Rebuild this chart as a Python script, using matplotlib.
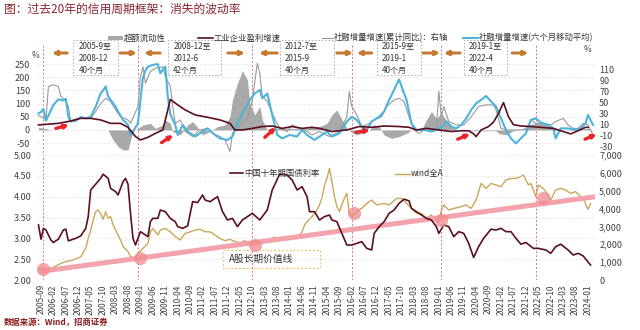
import numpy as np
import pandas as pd
import matplotlib
matplotlib.use('Agg')
import matplotlib.pyplot as plt
from matplotlib.patches import Rectangle
from matplotlib.lines import Line2D
from matplotlib.ticker import FuncFormatter

plt.rcParams['font.family'] = ['Noto Sans CJK SC', 'DejaVu Sans']
plt.rcParams['axes.unicode_minus'] = False

# ---------------- data ----------------
# top panel: excess liquidity (grey area)
liq_dates = ['2005-08', '2005-11', '2006-01', '2007-12', '2008-01', '2008-02', '2008-04', '2008-06',
             '2008-08', '2008-09', '2008-10', '2008-12', '2009-02', '2009-05', '2009-07', '2009-10',
             '2009-11', '2010-01', '2010-02', '2010-05', '2010-08', '2010-10', '2010-12', '2011-02',
             '2011-05', '2011-08', '2011-11', '2012-01', '2012-02', '2012-04', '2012-06', '2012-08',
             '2012-09', '2012-11', '2013-01', '2013-02', '2013-04', '2013-08', '2014-06', '2015-01',
             '2015-04', '2015-06', '2015-08', '2015-10', '2015-12', '2016-02', '2016-04', '2016-06',
             '2016-09', '2016-11', '2017-01', '2017-03', '2017-06', '2017-09', '2017-12', '2018-02',
             '2018-06', '2018-08', '2018-10', '2018-12', '2019-02', '2019-04', '2019-06', '2019-08',
             '2019-10', '2020-12', '2021-01', '2021-04', '2021-07', '2021-10', '2022-01', '2022-05',
             '2022-09', '2022-12', '2023-03', '2024-01', '2024-03']
liq_vals = [10, 5, 0, 0, -20, -38, -63, -76,
            -76, -38, -6, 6, 19, 25, 6, 19,
            38, 25, -6, -19, 19, 32, 10, -19,
            -6, 13, 19, 50, 114, 177, 225, 190,
            101, 57, 89, 38, 0, 6, 6, 13,
            25, 57, 76, 40, 6, -10, -19, -13,
            0, 19, 13, -19, -32, -25, -13, 0,
            0, 38, 70, 44, 63, 38, 19, 0,
            -3, -3, -13, -19, -3, 0, 19, 28,
            19, 6, 0, 6, 0]

# industrial profit growth
prof_dates = ['2005-08', '2006-04', '2006-08', '2007-01', '2007-05', '2007-09', '2008-01', '2008-05',
              '2008-08', '2008-11', '2009-01', '2009-04', '2009-07', '2009-10', '2009-12', '2010-01',
              '2010-04', '2010-07', '2010-11', '2011-03', '2011-09', '2012-01', '2012-03', '2012-06',
              '2012-10', '2013-02', '2013-06', '2013-10', '2014-02', '2014-06', '2014-10', '2015-01',
              '2015-06', '2015-12', '2016-05', '2016-10', '2017-03', '2017-09', '2018-01', '2018-04',
              '2018-08', '2019-01', '2019-06', '2019-10', '2020-01', '2020-03', '2020-04', '2020-06',
              '2020-09', '2020-11', '2021-01', '2021-03', '2021-05', '2021-07', '2021-10', '2022-02',
              '2022-06', '2022-11', '2023-03', '2023-06', '2023-09', '2023-12', '2024-01']
prof_vals = [19, 25, 32, 44, 44, 38, 25, 25,
             10, -25, -38, -28, -13, 0, 76, 116,
             95, 76, 57, 50, 38, 25, 0, 0,
             6, 13, 15, 6, 13, 6, 10, 6,
             -6, 0, 13, 10, 15, 13, 10, 0,
             6, 0, -6, -3, -3, -15, -25, 0,
             13, 30, 63, 104, 50, 20, 15, 13,
             10, 6, -6, -15, -3, 10, 10]

# social financing growth (cumulative yoy, thin grey)
sf_dates = ['2005-08', '2005-10', '2005-11', '2005-12', '2006-02', '2006-04', '2006-05', '2006-07',
            '2006-08', '2006-09', '2006-11', '2007-01', '2007-03', '2007-05', '2007-07', '2007-09',
            '2007-11', '2008-01', '2008-03', '2008-05', '2008-08', '2008-09', '2008-12', '2009-01',
            '2009-02', '2009-03', '2009-05', '2009-07', '2009-10', '2009-11', '2010-01', '2010-02',
            '2010-03', '2010-05', '2010-07', '2010-10', '2011-01', '2011-04', '2011-06', '2011-09',
            '2011-11', '2012-01', '2012-02', '2012-05', '2012-08', '2012-10', '2012-12', '2013-01',
            '2013-02', '2013-04', '2013-06', '2013-09', '2013-12', '2014-02', '2014-05', '2014-08',
            '2014-10', '2015-01', '2015-05', '2015-09', '2015-12', '2016-01', '2016-02', '2016-04',
            '2016-06', '2016-08', '2016-11', '2017-02', '2017-04', '2017-07', '2017-09', '2017-11',
            '2018-01', '2018-03', '2018-05', '2018-08', '2018-11', '2018-12', '2019-01', '2019-02',
            '2019-03', '2019-05', '2019-08', '2019-11', '2020-02', '2020-05', '2020-08', '2020-11',
            '2020-12', '2021-02', '2021-04', '2021-07', '2021-10', '2022-01', '2022-02', '2022-04',
            '2022-07', '2022-10', '2022-12', '2023-03', '2023-05', '2023-07', '2023-09', '2023-11',
            '2024-01', '2024-03']
sf_vals = [55, 45, 38, 165, 171, 165, 127, 110,
           89, 32, 32, 50, 44, 44, 70, 101,
           120, 108, 76, 50, 38, 25, 89, 203,
           240, 177, 222, 234, 240, 203, 165, 89,
           25, 38, -6, -25, 0, 6, -13, -25,
           -38, -82, -13, 19, 44, 114, 253, 215,
           127, 108, 63, 6, -6, 19, 6, -6,
           -19, -6, -25, -6, 50, 146, 89, 57,
           13, 19, 38, 50, 89, 114, 120, 108,
           50, 0, -13, 6, -6, 6, 146, 50,
           89, 32, 19, 19, 50, 89, 95, 95,
           76, 6, 0, 0, 0, 6, 38, 25,
           25, 19, 32, 44, 19, 6, 6, 25,
           19, -19]

# social financing growth (6m moving average, blue)
sfma_dates = ['2005-08', '2005-09', '2005-10', '2005-11', '2005-12', '2006-02', '2006-04', '2006-06',
              '2006-07', '2006-08', '2006-09', '2006-11', '2007-01', '2007-03', '2007-05', '2007-07',
              '2007-09', '2007-10', '2007-11', '2007-12', '2008-01', '2008-03', '2008-04', '2008-06',
              '2008-08', '2008-09', '2008-10', '2008-12', '2009-02', '2009-03', '2009-04', '2009-06',
              '2009-08', '2009-09', '2009-11', '2009-12', '2010-01', '2010-03', '2010-04', '2010-06',
              '2010-08', '2010-11', '2011-02', '2011-04', '2011-07', '2011-09', '2011-12', '2012-02',
              '2012-04', '2012-06', '2012-09', '2012-11', '2013-01', '2013-02', '2013-04', '2013-06',
              '2013-08', '2013-10', '2014-01', '2014-04', '2014-06', '2014-08', '2014-11', '2015-01',
              '2015-04', '2015-06', '2015-09', '2015-12', '2016-02', '2016-04', '2016-06', '2016-08',
              '2016-10', '2017-01', '2017-03', '2017-05', '2017-07', '2017-09', '2017-10', '2017-12',
              '2018-02', '2018-04', '2018-07', '2018-10', '2019-01', '2019-03', '2019-04', '2019-06',
              '2019-08', '2019-10', '2019-12', '2020-02', '2020-04', '2020-06', '2020-08', '2020-10',
              '2020-12', '2021-02', '2021-04', '2021-06', '2021-08', '2021-10', '2021-12', '2022-02',
              '2022-04', '2022-06', '2022-09', '2022-11', '2022-12', '2023-02', '2023-05', '2023-08',
              '2023-10', '2023-12', '2024-01', '2024-02', '2024-03']
sfma_vals = [63, 68, 80, 35, 55, 95, 116, 112,
             118, 50, 32, 38, 48, 44, 50, 88,
             139, 150, 165, 127, 114, 89, 70, 38,
             19, -19, -6, 25, 200, 225, 240, 247,
             250, 215, 240, 127, 60, 19, -19, 19,
             -6, -25, -6, 6, -19, -32, -38, -25,
             25, 63, 114, 139, 152, 120, 139, 57,
             -19, -32, -19, -25, 0, -19, -38, -25,
             -6, -25, -13, 32, 50, 38, 13, 0,
             32, 50, 70, 114, 152, 192, 165, 114,
             25, 0, 0, -6, 6, 20, 32, 13,
             6, 19, 44, 76, 101, 114, 129, 108,
             89, 44, 0, -32, -51, -32, -13, 38,
             44, 28, 19, 6, -32, 6, 6, 0,
             6, 25, 57, 38, 19]

# bottom panel: 10y CGB yield (left axis, %)
cgb_dates = ['2005-08', '2005-09', '2005-10', '2005-11', '2006-01', '2006-02', '2006-04', '2006-06',
             '2006-07', '2006-08', '2006-11', '2007-01', '2007-03', '2007-04', '2007-05', '2007-07',
             '2007-09', '2007-10', '2007-12', '2008-01', '2008-03', '2008-04', '2008-06', '2008-07',
             '2008-08', '2008-09', '2008-10', '2008-11', '2009-01', '2009-02', '2009-04', '2009-05',
             '2009-06', '2009-08', '2009-09', '2009-11', '2010-01', '2010-03', '2010-04', '2010-06',
             '2010-08', '2010-10', '2010-12', '2011-02', '2011-03', '2011-05', '2011-08', '2011-10',
             '2011-12', '2012-02', '2012-04', '2012-06', '2012-08', '2012-10', '2013-01', '2013-04',
             '2013-06', '2013-09', '2013-12', '2014-02', '2014-04', '2014-06', '2014-08', '2014-09',
             '2014-11', '2015-01', '2015-03', '2015-05', '2015-06', '2015-08', '2015-10', '2015-12',
             '2016-02', '2016-04', '2016-06', '2016-08', '2016-10', '2016-11', '2017-01', '2017-03',
             '2017-05', '2017-07', '2017-09', '2017-11', '2018-01', '2018-02', '2018-04', '2018-06',
             '2018-08', '2018-10', '2018-12', '2019-01', '2019-03', '2019-05', '2019-07', '2019-09',
             '2019-11', '2020-01', '2020-03', '2020-05', '2020-07', '2020-10', '2020-12', '2021-02',
             '2021-04', '2021-06', '2021-08', '2021-10', '2021-12', '2022-03', '2022-05', '2022-08',
             '2022-10', '2022-12', '2023-02', '2023-05', '2023-07', '2023-09', '2023-11', '2024-02']
cgb_vals = [3.32, 2.98, 3.24, 3.20, 2.96, 2.90, 2.98, 3.20,
            3.22, 2.94, 3.00, 3.06, 3.24, 3.52, 4.16, 4.30,
            4.44, 4.54, 4.44, 4.20, 4.12, 4.04, 4.36, 4.44,
            4.30, 3.60, 3.00, 2.84, 3.16, 3.12, 3.04, 3.40,
            3.48, 3.48, 3.68, 3.64, 3.48, 3.40, 3.28, 3.24,
            3.30, 3.88, 3.86, 4.04, 3.92, 3.88, 4.00, 3.64,
            3.44, 3.48, 3.28, 3.44, 3.52, 3.60, 3.44, 3.68,
            4.16, 4.54, 4.52, 4.40, 4.16, 4.24, 4.00, 3.64,
            3.64, 3.44, 3.52, 3.56, 3.44, 3.40, 3.12, 2.84,
            2.84, 2.88, 2.92, 2.76, 2.72, 3.12, 3.28, 3.40,
            3.60, 3.68, 3.84, 3.94, 3.90, 3.72, 3.64, 3.56,
            3.48, 3.44, 3.28, 3.12, 3.32, 3.28, 3.04, 3.16,
            3.12, 2.88, 2.54, 2.80, 3.00, 3.22, 3.20, 3.24,
            3.16, 3.16, 3.00, 2.86, 2.90, 2.76, 2.76, 2.72,
            2.64, 2.80, 2.86, 2.72, 2.60, 2.64, 2.58, 2.36]

# Wind All-A index (right axis)
wind_dates = ['2005-08', '2005-11', '2006-02', '2006-05', '2006-07', '2006-10', '2007-01', '2007-03',
              '2007-04', '2007-05', '2007-06', '2007-07', '2007-08', '2007-09', '2007-10', '2007-11',
              '2007-12', '2008-01', '2008-02', '2008-03', '2008-05', '2008-06', '2008-08', '2008-09',
              '2008-11', '2008-12', '2009-02', '2009-04', '2009-05', '2009-06', '2009-08', '2009-09',
              '2009-11', '2010-01', '2010-03', '2010-05', '2010-07', '2010-09', '2010-11', '2011-01',
              '2011-03', '2011-05', '2011-07', '2011-09', '2011-11', '2012-01', '2012-03', '2012-05',
              '2012-07', '2012-09', '2012-11', '2013-01', '2013-03', '2013-05', '2013-07', '2013-09',
              '2013-11', '2014-01', '2014-03', '2014-05', '2014-06', '2014-07', '2014-08', '2014-10',
              '2014-11', '2014-12', '2015-01', '2015-02', '2015-03', '2015-04', '2015-05', '2015-06',
              '2015-07', '2015-08', '2015-09', '2015-10', '2015-11', '2015-12', '2016-01', '2016-02',
              '2016-04', '2016-06', '2016-08', '2016-10', '2016-12', '2017-03', '2017-05', '2017-08',
              '2017-10', '2017-12', '2018-02', '2018-04', '2018-06', '2018-08', '2018-10', '2018-12',
              '2019-01', '2019-02', '2019-03', '2019-05', '2019-07', '2019-09', '2019-12', '2020-02',
              '2020-04', '2020-06', '2020-08', '2020-10', '2020-12', '2021-02', '2021-04', '2021-06',
              '2021-08', '2021-10', '2021-11', '2022-01', '2022-02', '2022-04', '2022-05', '2022-07',
              '2022-09', '2022-10', '2022-12', '2023-02', '2023-04', '2023-06', '2023-08', '2023-10',
              '2023-11', '2024-01', '2024-02']
wind_vals = [650, 600, 710, 930, 1030, 1120, 1300, 1770,
             2330, 2800, 3360, 3830, 3920, 3700, 3400, 3830,
             3450, 3550, 3080, 2800, 2240, 1870, 1590, 1300,
             1210, 1490, 1770, 2050, 2700, 2890, 2520, 2800,
             2890, 2700, 2430, 2240, 2610, 2700, 2800, 2840,
             2700, 2700, 2520, 2330, 2200, 2280, 2150, 2090,
             2200, 2050, 1960, 2200, 2240, 2280, 2390, 2330,
             2330, 2390, 2390, 2520, 2700, 3080, 3270, 3550,
             3730, 3920, 4200, 4600, 5300, 5690, 6250, 5500,
             4700, 4110, 3830, 4200, 4570, 4850, 3730, 3550,
             3830, 4010, 4290, 4480, 4200, 4290, 4200, 4570,
             4570, 4290, 4010, 3730, 3730, 3450, 3640, 3270,
             3270, 3900, 4200, 3920, 4010, 4070, 4200, 4010,
             4480, 5410, 5130, 5410, 5320, 5230, 5600, 5690,
             5690, 5790, 5880, 5320, 5410, 4670, 5320, 5130,
             4760, 4480, 5040, 5130, 5040, 4850, 4950, 4670,
             4570, 3960, 4290]

# long-term value line and touch points (left axis units)
trend_dates = ['2005-08', '2024-04']
trend_vals = [2.20, 4.00]
touch_dates = ['2005-10', '2009-01', '2012-11', '2016-03', '2019-02', '2022-07']
touch_vals = [2.27, 2.53, 2.84, 3.60, 3.43, 3.97]

cycle_lines = ['2005-10', '2008-12', '2012-10', '2016-02', '2019-02', '2022-04']
cycle_text = ['2005-9至\n2008-12\n40个月', '2008-12至\n2012-6\n42个月', '2012-7至\n2015-9\n40个月',
              '2015-9至\n2019-1\n40个月', '2019-1至\n2022-4\n40个月']

xtick_dates = pd.date_range('2005-09-01', '2024-01-01', freq='5MS')


def mi(dates):
    # month index relative to 2005-09
    return np.array([(int(d[:4]) - 2005) * 12 + int(d[5:7]) - 9 for d in dates])


# ---------------- figure ----------------
W, H = 640, 330
fig = plt.figure(figsize=(6.4, 3.3), dpi=100)


def fx(px):
    return px / W


def fy(py):
    return 1 - py / H


XL = (-1.6, 222.8)
c_red = '#5a1020'
c_blue = '#4cb3dc'
c_grey = '#9a9a9a'
c_fill = '#a9a9a9'
c_gold = '#c9a85a'
c_vline = '#e0707c'
tick_c = '#404040'

# top panel
ax1 = fig.add_axes([fx(37), fy(156.3), fx(558), 113.3 / H])
ax1.set_xlim(*XL)
ax1.set_ylim(-100, 330)
ax1.fill_between(mi(liq_dates), liq_vals, 0, color=c_fill, lw=0, zorder=2)
ax1.plot(mi(sf_dates), sf_vals, color=c_grey, lw=0.8, zorder=3)
ax1.plot(mi(sfma_dates), sfma_vals, color=c_blue, lw=1.5, zorder=4)
ax1.plot(mi(prof_dates), prof_vals, color=c_red, lw=1.2, zorder=5)
ax1.set_yticks(range(-50, 251, 50))
ax1.set_xticks([])
ax1.grid(axis='y', ls=(0, (3, 3)), color='#dddddd', lw=0.5)
for s in ax1.spines.values():
    s.set_visible(False)
ax1.tick_params(axis='y', length=0, labelsize=6.5, colors=tick_c, pad=5)
ax1r = ax1.twinx()
ax1r.set_ylim(-47.8, 158)
ax1r.set_yticks(range(-30, 111, 20))
for s in ax1r.spines.values():
    s.set_visible(False)
ax1r.tick_params(axis='y', length=0, labelsize=6.5, colors=tick_c, pad=3)
for d in cycle_lines:
    ax1.axvline(mi([d])[0], color=c_vline, lw=0.7, ls=(0, (2, 2)), zorder=1)

# cycle boxes and orange arrows
box_edges = [(13, 31), (51, 72.5), (96, 118), (135, 153), (170, 187.5)]
for (a, b), t in zip(box_edges, cycle_text):
    ax1.add_patch(Rectangle((a, 209), b - a, 132, fill=False, ec='#a8a8a8', lw=0.6,
                            ls=(0, (2, 2)), clip_on=False, zorder=6))
    ax1.text(a + 2.2, 336, t, fontsize=5.8, va='top', ha='left', color='#333333',
             linespacing=1.45, clip_on=False)
orange_arrows = [(10.5, 4.4), (31.8, 38.6), (47.9, 41.4), (75.2, 82), (95, 87.7),
                 (119, 125.5), (133, 127), (153.7, 160.5), (168.5, 162), (189.5, 196)]
for a, b in orange_arrows:
    ax1.annotate('', xy=(b, 292), xytext=(a, 292), annotation_clip=False,
                 arrowprops=dict(arrowstyle='-|>', color='#c47a30', lw=2.2,
                                 mutation_scale=6, shrinkA=0, shrinkB=0))
red_arrows = [((6.0, 6), (11.3, 19)), ((48.5, -48), (53.2, -19)), ((90, -28), (94.5, 10)),
              ((126.7, -9), (132.3, 0)), ((167.6, -35), (172.6, -15)), ((218.8, -35), (223.5, -16))]
for p0, p1 in red_arrows:
    ax1.annotate('', xy=p1, xytext=p0, annotation_clip=False, zorder=8,
                 arrowprops=dict(arrowstyle='-|>', color='#e8262a', lw=2.4,
                                 mutation_scale=5, shrinkA=0, shrinkB=0))

# bottom panel
ax2 = fig.add_axes([fx(37), fy(280), fx(558), 125 / H])
ax2.set_xlim(*XL)
ax2.set_ylim(2, 5)
ax2.set_yticks(np.arange(2, 5.01, 0.5))
ax2.yaxis.set_major_formatter(FuncFormatter(lambda v, p: f'{v:.2f}'))
ax2.grid(axis='y', ls=(0, (3, 3)), color='#dddddd', lw=0.5)
for s in ax2.spines.values():
    s.set_visible(False)
ax2.tick_params(axis='y', length=0, labelsize=6.5, colors=tick_c, pad=4)
ax2.set_xticks(mi([d.strftime('%Y-%m') for d in xtick_dates]))
ax2.set_xticklabels([d.strftime('%Y-%m') for d in xtick_dates], rotation=90,
                    fontsize=6, color=tick_c)
ax2.tick_params(axis='x', length=0, pad=3)
for d in cycle_lines:
    ax2.axvline(mi([d])[0], color=c_vline, lw=0.7, ls=(0, (2, 2)), zorder=1)
ax2.plot(mi(trend_dates), trend_vals, color='#f4a3ad', lw=3.6, solid_capstyle='butt', zorder=2)
ax2.plot(mi(cgb_dates), cgb_vals, color=c_red, lw=1.2, zorder=4)
ax2.scatter(mi(touch_dates), touch_vals, s=90, color='#f08a8e', alpha=0.75, lw=0, zorder=6)
ax2r = ax2.twinx()
ax2r.set_ylim(0, 7000)
ax2r.set_yticks(range(0, 7001, 1000))
ax2r.yaxis.set_major_formatter(FuncFormatter(lambda v, p: f'{int(v):,}'))
ax2r.plot(mi(wind_dates), wind_vals, color=c_gold, lw=1.0, zorder=3)
for s in ax2r.spines.values():
    s.set_visible(False)
ax2r.tick_params(axis='y', length=0, labelsize=6.5, colors=tick_c, pad=3)
ax2.set_zorder(ax2r.get_zorder() + 1)
ax2.patch.set_visible(False)

# value-line label box
fig.add_artist(Rectangle((fx(223), fy(268)), fx(97), 18 / H, fill=False, ec='#f0c060',
                         lw=0.7, ls=(0, (2, 2)), transform=fig.transFigure))
fig.text(fx(229), fy(259), 'A股长期价值线', fontsize=7, va='center', ha='left', color='#333333')

# legends
def leg_line(x0, x1, y, color, lw, label):
    fig.add_artist(Line2D([fx(x0), fx(x1)], [fy(y), fy(y)], color=color, lw=lw,
                          transform=fig.transFigure))
    fig.text(fx(x1 + 1), fy(y), label, fontsize=6, va='center', ha='left', color='#333333')


fig.add_artist(Rectangle((fx(108), fy(40)), fx(15), 4 / H, color=c_fill, lw=0,
                         transform=fig.transFigure))
fig.text(fx(124), fy(38), '超额流动性', fontsize=6, va='center', ha='left', color='#333333')
leg_line(198, 213, 38, c_red, 1.2, '工业企业盈利增速')
leg_line(322, 333, 38, c_grey, 0.8, '社融增量增速(累计同比)：右轴')
leg_line(463, 478, 38, c_blue, 1.5, '社融增量增速(六个月移动平均)')
leg_line(230, 243, 173, c_red, 1.2, '中国十年期国债利率')
leg_line(395, 410, 174, c_gold, 1.0, 'wind全A')

fig.text(fx(35), fy(55), '%', fontsize=6, va='center', ha='center', color=tick_c)
fig.text(fx(587), fy(50), '%', fontsize=6, va='center', ha='center', color=tick_c)

fig.text(fx(4), fy(9), '图：过去20年的信用周期框架：消失的波动率', fontsize=8.5,
         va='center', ha='left', color='#8b2232')
fig.text(fx(4), fy(322), '数据来源：Wind，招商证券', fontsize=6, va='center', ha='left',
         color='#8b1a1a', fontweight='bold')

fig.savefig('out.png', dpi=100)
